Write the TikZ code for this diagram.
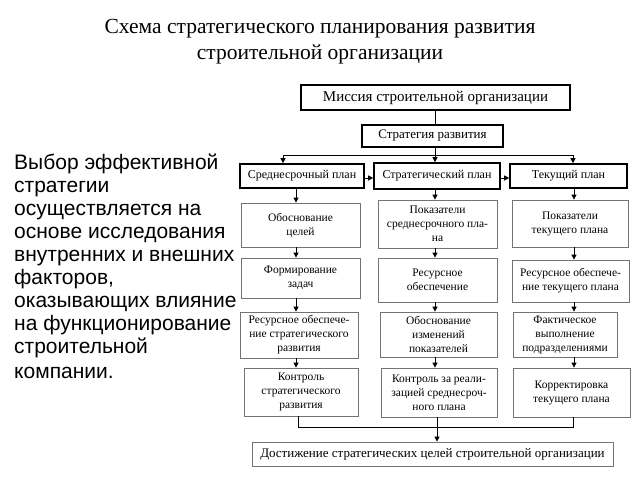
\documentclass[tikz,border=0pt]{standalone}
\usepackage{fontspec}
\setmainfont{Liberation Serif}
\newfontfamily\leftfont{Liberation Sans}
\usetikzlibrary{arrows.meta}
\tikzset{
  bigbox/.style={draw, line width=1.6pt, inner sep=0pt, align=center, font=\fontsize{12}{14}\selectfont},
  smallbox/.style={draw=black!55, line width=0.8pt, inner sep=0pt, align=center, font=\fontsize{11.5}{14}\selectfont},
  arr/.style={-{Triangle[length=5pt,width=5pt]}, line width=0.8pt},
  conn/.style={line width=0.8pt}
}
\begin{document}
\begin{tikzpicture}[x=1pt,y=-1pt]
    \useasboundingbox (0,0) rectangle (640,480);
    % title and left text
    \node (title) at (320,42) [align=center, font=\fontsize{21.5}{26}\selectfont] {Схема стратегического планирования развития\\строительной организации};
    \node (info) at (14,154) [anchor=north west, inner sep=0pt, align=left, font=\leftfont\fontsize{21}{23}\selectfont] {Выбор эффективной\\стратегии\\осуществляется на\\основе исследования\\внутренних и внешних\\факторов,\\оказывающих влияние\\на функционирование\\строительной\\[2pt]компании.};
    % top
    \node (mission) at (435.5,97.5) [bigbox, minimum width=269, minimum height=25, font=\fontsize{15}{16}\selectfont] {Миссия строительной организации};
    \node (strat) at (432.5,136) [bigbox, minimum width=141, minimum height=22, font=\fontsize{13}{14}\selectfont] {Стратегия развития};
    \node (plan1) at (302,176) [bigbox, minimum width=124, minimum height=24] {Среднесрочный план};
    \node (plan2) at (437,176) [bigbox, minimum width=126, minimum height=26] {Стратегический план};
    \node (plan3) at (568.5,176) [bigbox, minimum width=117, minimum height=24] {Текущий план};
    % columns
    \node (a1) at (300.5,225) [smallbox, minimum width=119, minimum height=44] {Обоснование\\целей};
    \node (a2) at (300.5,278) [smallbox, minimum width=119, minimum height=40] {Формирование\\задач};
    \node (a3) at (299,335) [smallbox, minimum width=118, minimum height=46] {Ресурсное обеспече-\\ние стратегического\\развития};
    \node (a4) at (301,392) [smallbox, minimum width=114, minimum height=48] {Контроль\\стратегического\\развития};
    \node (b1) at (437.5,224) [smallbox, minimum width=119, minimum height=48] {Показатели\\среднесрочного пла-\\на};
    \node (b2) at (437.5,280) [smallbox, minimum width=119, minimum height=44] {Ресурсное\\обеспечение};
    \node (b3) at (438.5,334.5) [smallbox, minimum width=117, minimum height=45] {Обоснование\\изменений\\показателей};
    \node (b4) at (439,392.5) [smallbox, minimum width=116, minimum height=49] {Контроль за реали-\\зацией среднесроч-\\ного плана};
    \node (c1) at (570,223.5) [smallbox, minimum width=116, minimum height=47] {Показатели\\текущего плана};
    \node (c2) at (570.5,281) [smallbox, minimum width=117, minimum height=42] {Ресурсное обеспече-\\ние текущего плана};
    \node (c3) at (565,334.5) [smallbox, minimum width=104, minimum height=45] {Фактическое\\выполнение\\подразделениями};
    \node (c4) at (571.5,392.5) [smallbox, minimum width=117, minimum height=49] {Корректировка\\текущего плана};
    \node (goal) at (432.5,454) [smallbox, minimum width=361, minimum height=24, font=\fontsize{13}{14}\selectfont] {Достижение стратегических целей строительной организации};
    % helper coordinates
    \coordinate (xa) at (296,0);
    \coordinate (xb) at (435,0);
    \coordinate (xc) at (574,0);
    \coordinate (fork) at (435,155);
    \coordinate (join) at (437,427);
    % connectors
    \draw[conn] (mission.south -| xb) -- (strat.north -| xb);
    \draw[conn] (strat.south -| xb) -- (fork);
    \draw[arr] (fork) -- (plan2.north -| xb);
    \draw[arr] (fork) -| (plan1.north -| 283,0);
    \draw[arr] (fork) -| (plan3.north -| 573,0);
    \draw[arr] (plan1.east |- 0,178) -- (plan2.west |- 0,178);
    \draw[arr] (plan2.east |- 0,178) -- (plan3.west |- 0,178);
    \draw[arr] (plan1.south -| xa) -- (a1.north -| xa);
    \draw[arr] (a1.south -| xa) -- (a2.north -| xa);
    \draw[arr] (a2.south -| xa) -- (a3.north -| xa);
    \draw[arr] (a3.south -| xa) -- (a4.north -| xa);
    \draw[arr] (plan2.south -| xb) -- (b1.north -| xb);
    \draw[arr] (b1.south -| xb) -- (b2.north -| xb);
    \draw[arr] (b2.south -| xb) -- (b3.north -| xb);
    \draw[arr] (b3.south -| xb) -- (b4.north -| xb);
    \draw[arr] (plan3.south -| xc) -- (c1.north -| xc);
    \draw[arr] (c1.south -| xc) -- (c2.north -| xc);
    \draw[arr] (c2.south -| xc) -- (c3.north -| xc);
    \draw[arr] (c3.south -| xc) -- (c4.north -| xc);
    \draw[conn] (a4.south -| 298,0) |- (join);
    \draw[conn] (c4.south -| 573,0) |- (join);
    \draw[conn] (b4.south -| join) -- (join);
    \draw[arr] (join) -- (goal.north -| join);
\end{tikzpicture}
\end{document}
